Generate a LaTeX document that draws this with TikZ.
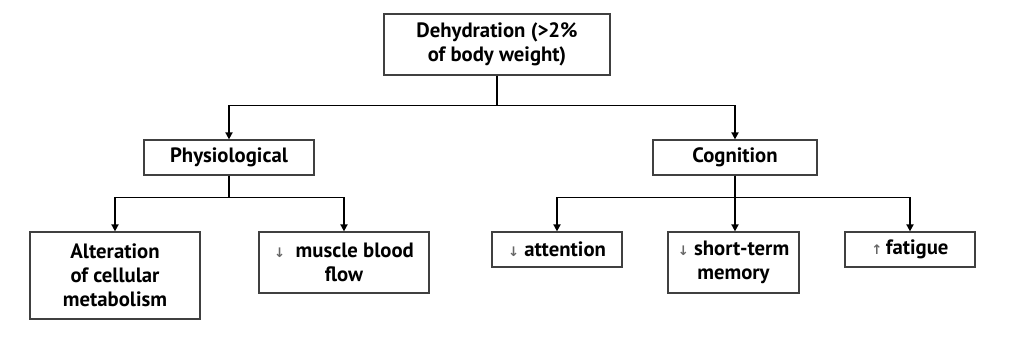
\documentclass[tikz,border=0pt]{standalone}
\usepackage{fontspec}
\setmainfont{PT Sans}
\newfontfamily\symfont{DejaVu Sans}
\usepackage{tikz}
\usetikzlibrary{positioning,arrows.meta}

\newcommand{\dn}{{\symfont\fontsize{7.5}{8}\selectfont\color{black!60}↓}}
\newcommand{\upar}{{\symfont\fontsize{7.5}{8}\selectfont\color{black!60}↑}}

\begin{document}
\begin{tikzpicture}[
  font=\bfseries\fontsize{11.8}{13.8}\selectfont,
  box/.style={rectangle, draw=black!75, line width=0.7pt, inner sep=2pt,
              fill=white, align=center},
  arr/.style={-{Triangle[length=1.4mm, width=1.4mm]}, draw=black, line width=1pt}
]
\useasboundingbox (0,0) rectangle (20.48,-6.76);

\node[box, minimum width=4.52cm, minimum height=1.22cm] (dh)  at (9.94,-0.89) {Dehydration (>2\%\\of body weight)};
\node[box, minimum width=3.4cm,  minimum height=0.7cm]  (phy) at (4.58,-3.15) {Physiological};
\node[box, minimum width=3.28cm, minimum height=0.7cm]  (cog) at (14.7,-3.15) {Cognition};
\node[box, minimum width=3.4cm,  minimum height=1.74cm] (alt) at (2.3,-5.51)  {Alteration\\of cellular\\metabolism};
\node[box, minimum width=3.4cm,  minimum height=1.22cm] (mbf) at (6.88,-5.25) {\dn\ \ muscle blood\\flow};
\node[box, minimum width=2.6cm,  minimum height=0.7cm]  (att) at (11.14,-4.99) {\dn\ attention};
\node[box, minimum width=2.62cm, minimum height=1.22cm] (stm) at (14.67,-5.25) {\dn\ short-term\\memory};
\node[box, minimum width=2.6cm,  minimum height=0.7cm]  (fat) at (18.2,-4.99)  {\upar\,fatigue};

\draw[arr] (dh.south) -- ++(0,-0.6) -| (phy.north);
\draw[arr] (dh.south) -- ++(0,-0.6) -| (cog.north);
\draw[arr] (phy.south) -- ++(0,-0.44) -| (alt.north);
\draw[arr] (phy.south) -- ++(0,-0.44) -| (mbf.north);
\draw[arr] (cog.south) -- ++(0,-0.44) -| (att.north);
\draw[arr] (cog.south) -- (cog.south |- stm.north);
\draw[arr] (cog.south) -- ++(0,-0.44) -| (fat.north);
\end{tikzpicture}
\end{document}
